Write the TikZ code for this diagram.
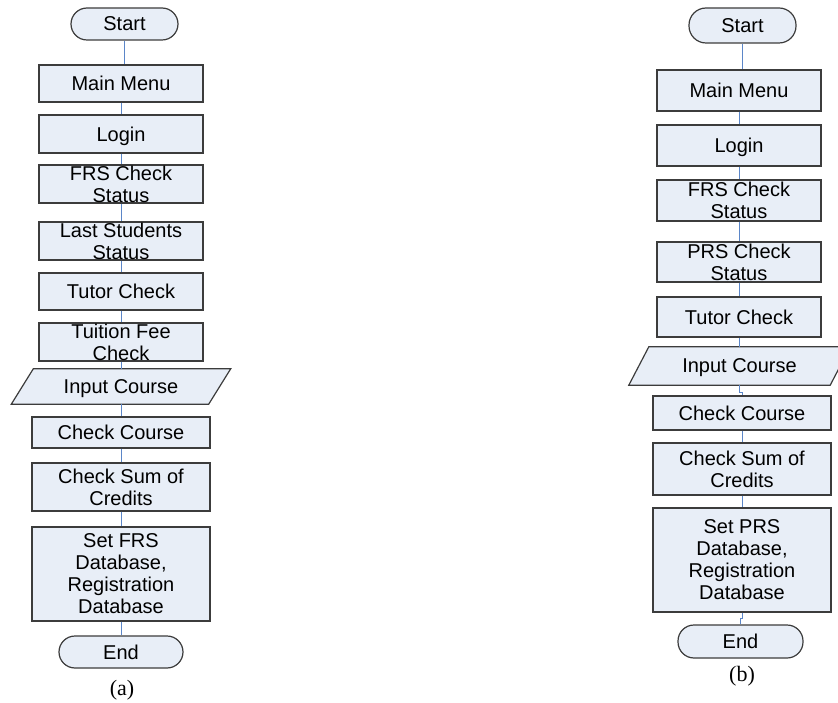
\documentclass[tikz,border=0pt]{standalone}
\usepackage{fontspec}
\setmainfont{Liberation Sans}
\newfontfamily\capfont{Liberation Serif}
\usetikzlibrary{backgrounds}
\definecolor{boxfill}{HTML}{E8EEF7}
\definecolor{boxline}{HTML}{3C3C3C}
\definecolor{connline}{HTML}{5B86C8}
\tikzset{
  flowbox/.style={draw=boxline, fill=boxfill, line width=1.2pt, rectangle,
    inner sep=0pt, align=center, text depth=0pt,
    font=\fontsize{20}{22}\selectfont},
  termbox/.style={flowbox, rounded corners=16pt},
  iobox/.style={rectangle, inner sep=0pt, align=center, text depth=0pt,
    font=\fontsize{20}{22}\selectfont},
  iofill/.style={draw=boxline, fill=boxfill, line width=1.2pt},
  conn/.style={draw=connline, line width=1pt},
  caplabel/.style={font=\capfont\fontsize{22}{24}\selectfont, inner sep=0pt}
}
\begin{document}
\begin{tikzpicture}[x=1pt, y=-1pt]
\useasboundingbox (0,0) rectangle (838,703);
% ---------------- (a) ----------------
\node[termbox, minimum width=107pt, minimum height=32pt] (sA) at (124.5,24) {Start};
\node[flowbox, minimum width=164pt, minimum height=37pt] (mmA) at (121,83.5) {Main Menu};
\node[flowbox, minimum width=164pt, minimum height=38pt] (lgA) at (121,134) {Login};
\node[flowbox, minimum width=164pt, minimum height=38pt] (frsA) at (121,184) {FRS Check\\Status};
\node[flowbox, minimum width=164pt, minimum height=38pt] (lsA) at (121,241) {Last Students\\Status};
\node[flowbox, minimum width=164pt, minimum height=37pt] (tcA) at (121,291.5) {Tutor Check};
\node[flowbox, minimum width=164pt, minimum height=38pt] (tfA) at (121,342) {Tuition Fee\\Check};
\node[iobox, minimum width=197pt, minimum height=35pt] (icA) at (121,386.5) {Input Course};
\begin{pgfonlayer}{background}
\path[iofill] ([xshift=11pt]icA.north west) -- ([xshift=11pt]icA.north east)
  -- ([xshift=-11pt]icA.south east) -- ([xshift=-11pt]icA.south west) -- cycle;
\end{pgfonlayer}
\node[flowbox, minimum width=178pt, minimum height=31pt] (ccA) at (121,432.5) {Check Course};
\node[flowbox, minimum width=178pt, minimum height=48pt] (csA) at (121,487) {Check Sum of\\Credits};
\node[flowbox, minimum width=178pt, minimum height=94pt] (sdA) at (121,574) {Set FRS\\Database,\\Registration\\Database};
\node[termbox, minimum width=124pt, minimum height=32pt] (eA) at (121,652) {End};
\node[caplabel] (capA) at (122,690) {(a)};

\draw[conn] (sA.south) -- (sA.south |- mmA.north);
\draw[conn] (mmA) -- (lgA);
\draw[conn] (lgA) -- (frsA);
\draw[conn] (frsA) -- (lsA);
\draw[conn] (lsA) -- (tcA);
\draw[conn] (tcA) -- (tfA);
\draw[conn] (tfA.south) -- (icA.north);
\draw[conn] (icA.south) -- (ccA.north);
\draw[conn] (ccA) -- (csA);
\draw[conn] (csA) -- (sdA);
\draw[conn] (sdA) -- (eA);

% ---------------- (b) ----------------
\node[termbox, minimum width=107pt, minimum height=35pt, rounded corners=17pt] (sB) at (742.5,25.5) {Start};
\node[flowbox, minimum width=164pt, minimum height=41pt] (mmB) at (739,90.5) {Main Menu};
\node[flowbox, minimum width=164pt, minimum height=41pt] (lgB) at (739,145.5) {Login};
\node[flowbox, minimum width=164pt, minimum height=41pt] (frsB) at (739,200.5) {FRS Check\\Status};
\node[flowbox, minimum width=164pt, minimum height=40pt] (prsB) at (739,262) {PRS Check\\Status};
\node[flowbox, minimum width=164pt, minimum height=40pt] (tcB) at (739,317) {Tutor Check};
\node[iobox, minimum width=201pt, minimum height=38pt] (icB) at (739.5,366) {Input Course};
\begin{pgfonlayer}{background}
\path[iofill] ([xshift=10pt]icB.north west) -- ([xshift=10pt]icB.north east)
  -- ([xshift=-10pt]icB.south east) -- ([xshift=-10pt]icB.south west) -- cycle;
\end{pgfonlayer}
\node[flowbox, minimum width=178pt, minimum height=34pt] (ccB) at (742,413) {Check Course};
\node[flowbox, minimum width=178pt, minimum height=52pt] (csB) at (742,469) {Check Sum of\\Credits};
\node[flowbox, minimum width=178pt, minimum height=104pt] (sdB) at (742,560) {Set PRS\\Database,\\Registration\\Database};
\node[termbox, minimum width=125pt, minimum height=33pt] (eB) at (740.5,641.5) {End};
\node[caplabel] (capB) at (742,676) {(b)};

\draw[conn] (sB.south) -- (sB.south |- mmB.north);
\draw[conn] (mmB) -- (lgB);
\draw[conn] (lgB) -- (frsB);
\draw[conn] (frsB) -- (prsB);
\draw[conn] (prsB) -- (tcB);
\draw[conn] (tcB.south) -- (tcB.south |- icB.north);
\draw[conn] (icB.south) -- ++(0,7) -| (ccB.north);
\draw[conn] (ccB) -- (csB);
\draw[conn] (csB) -- (sdB);
\draw[conn] (sdB.south) -- ++(0,6) -| (eB.north);
\end{tikzpicture}
\end{document}
